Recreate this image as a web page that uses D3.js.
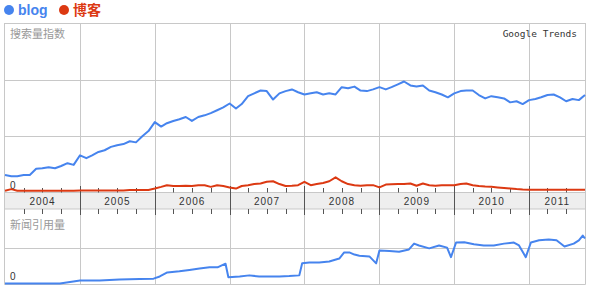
<!DOCTYPE html>
<html>
<head>
<meta charset="utf-8">
<script src="https://cdn.jsdelivr.net/npm/d3@7"></script>
<style>
  body { margin: 0; background: #fff; }
  svg { display: block; font-family: "Liberation Sans", Arial, sans-serif; }
</style>
</head>
<body>
<script>
// search volume, monthly from 2004-01 to 2011-10 (index, grid lines at 100 / 200)
let blogSearch = [31,29,29,31,31,42,43,45,43,47,52,49,
  66,61,66,72,75,81,84,86,91,89,100,109,
  125,117,123,127,130,134,127,134,137,141,146,151,
  158,149,157,171,176,181,180,165,176,180,183,178,
  174,176,178,174,176,174,187,185,188,181,180,183,
  187,183,187,192,197,190,188,190,181,178,174,169,
  176,180,181,181,173,167,171,169,167,160,162,157,
  164,166,169,173,174,169,162,166,164,173];
let bokeSearch = [3,6,3,3,3,3,3,3,3,3,3,3,
  3.5,3.5,3.5,3.5,3.5,3.5,3.5,3.5,4.4,4.4,4.4,4.4,
  7,10,13,11.5,11.5,12,11.5,13,13,10,13,11.5,
  9,7,11.5,13,15,16,19,20,15,11.5,12,13,
  19,13,15,17,20,27,20,15,13,12,13,13,
  9,14,14.5,15,15,16,12,16,13,12,13,13,
  13,15,16,13,11.5,10.5,10,9,8,7,6,5.3,
  5,5,5,5,5,5,5,5,5,5];
// news reference volume (grid line at 100)
let newsDates = ["2004-01-01","2004-09-25","2005-01-01","2005-04-07","2005-07-13","2005-10-19","2005-12-26",
  "2006-01-25","2006-03-03","2006-05-01","2006-06-19","2006-08-07","2006-09-25","2006-11-03","2006-12-12","2006-12-26",
  "2007-02-19","2007-04-07","2007-05-25","2007-07-13","2007-09-01","2007-10-19","2007-12-07","2007-12-21",
  "2008-01-25","2008-03-13","2008-05-01","2008-06-19","2008-07-13","2008-08-07","2008-09-01","2008-09-25","2008-11-13","2008-12-16",
  "2009-01-01","2009-02-19","2009-04-07","2009-05-25","2009-06-19","2009-07-13","2009-09-01","2009-10-19","2009-11-27","2009-12-16",
  "2010-01-10","2010-02-19","2010-04-07","2010-05-25","2010-07-13","2010-09-01","2010-10-19","2010-11-13","2010-12-16",
  "2011-01-10","2011-02-19","2011-04-07","2011-05-15","2011-06-23","2011-08-07","2011-09-01","2011-09-20","2011-10-01"];
let newsBlog = [3,3,11,11,14,15,16,
  22,33,36,40,44,47,47,57,20,
  22,25,22,22,22,23,25,58,
  60,60,63,71,88,88,82,79,77,58,
  93,92,90,96,112,107,99,107,101,75,
  115,116,110,107,107,112,115,107,75,
  115,121,123,121,104,112,121,134,126];
let years = ["2004","2005","2006","2007","2008","2009","2010","2011"];

let w = 590, h = 292;
let left = 4.5, right = 585.5;
let blue = "#4684ee", red = "#dc3912";

let svg = d3.select("body").append("svg").attr("width", w).attr("height", h);

let parse = d3.timeParse("%Y-%m-%d");
let start = parse("2004-01-01"), end = parse("2011-10-01");
let months = d3.timeMonth.range(start, d3.timeMonth.offset(end, 1));

let x = d3.scaleTime().domain([start, end]).range([left + 0.5, right - 0.5]);
let yTop = d3.scaleLinear().domain([0, 300]).range([192.5, 23.5]);
let yNews = d3.scaleLinear().domain([0, 200]).range([284.5, 211.5]);

let yearStarts = years.map(d => parse(d + "-01-01"));
let quarters = d3.timeMonth.every(3).range(start, end).filter(d => d.getMonth() !== 0);

// legend
let legend = svg.append("g").attr("font-weight", "bold").attr("font-size", 14);
legend.append("circle").attr("cx", 9).attr("cy", 10).attr("r", 5).attr("fill", blue);
legend.append("text").attr("x", 18).attr("y", 15).attr("fill", blue).text("blog");
legend.append("circle").attr("cx", 64).attr("cy", 10).attr("r", 5).attr("fill", red);
legend.append("text").attr("x", 73).attr("y", 15).attr("fill", red)
  .attr("font-family", "'Noto Sans CJK SC', sans-serif").text("博客");

// top panel grid
let grid = svg.append("g").attr("stroke", "#c8c8c8").attr("fill", "none");
grid.append("rect").attr("x", left).attr("y", 23.5).attr("width", right - left).attr("height", 192.5 - 23.5);
[100, 200].forEach(v => grid.append("line").attr("x1", left).attr("x2", right)
  .attr("y1", Math.round(yTop(v)) + 0.5).attr("y2", Math.round(yTop(v)) + 0.5));
yearStarts.slice(1).forEach(d => grid.append("line")
  .attr("x1", Math.round(x(d)) + 0.5).attr("x2", Math.round(x(d)) + 0.5).attr("y1", 23.5).attr("y2", 192.5));

// bottom panel grid
grid.append("line").attr("x1", left).attr("x2", left).attr("y1", 209).attr("y2", 284.5);
grid.append("line").attr("x1", right).attr("x2", right).attr("y1", 209).attr("y2", 284.5);
grid.append("line").attr("x1", left).attr("x2", right).attr("y1", 284.5).attr("y2", 284.5);
grid.append("line").attr("x1", left).attr("x2", right)
  .attr("y1", Math.round(yNews(100)) + 0.5).attr("y2", Math.round(yNews(100)) + 0.5);
yearStarts.slice(1).forEach(d => grid.append("line")
  .attr("x1", Math.round(x(d)) + 0.5).attr("x2", Math.round(x(d)) + 0.5).attr("y1", 209).attr("y2", 284.5));

// date band
svg.append("rect").attr("x", left).attr("y", 192.5).attr("width", right - left).attr("height", 16.5)
  .attr("fill", "#eeeeee").attr("stroke", "#c8c8c8");
let ticks = svg.append("g").attr("stroke", "#555");
quarters.forEach(d => {
  let px = Math.round(x(d)) + 0.5;
  ticks.append("line").attr("x1", px).attr("x2", px).attr("y1", 188).attr("y2", 192.5);
  ticks.append("line").attr("x1", px).attr("x2", px).attr("y1", 209).attr("y2", 214);
});
yearStarts.slice(1).forEach(d => {
  let px = Math.round(x(d)) + 0.5;
  ticks.append("line").attr("x1", px).attr("x2", px).attr("y1", 186).attr("y2", 215);
});
svg.append("g").selectAll("text").data(years).join("text")
  .attr("x", d => (x(parse(d + "-01-01")) + Math.min(x(parse((+d + 1) + "-01-01")), right)) / 2)
  .attr("y", 205).attr("text-anchor", "middle").attr("font-size", 10).attr("letter-spacing", 1)
  .attr("fill", "#333").text(d => d);

// labels
let lab = svg.append("g").attr("fill", "#999").attr("font-family", "'Noto Sans CJK SC', sans-serif").attr("font-size", 11);
lab.append("text").attr("x", 10).attr("y", 38).text("搜索量指数");
lab.append("text").attr("x", 10).attr("y", 229).text("新闻引用量");
svg.append("text").attr("x", 577).attr("y", 37).attr("text-anchor", "end")
  .attr("font-family", "'DejaVu Sans Mono', monospace").attr("font-size", 9.5).attr("fill", "#333")
  .text("Google Trends");
svg.append("text").attr("x", 10).attr("y", 189).attr("font-size", 10).attr("fill", "#333").text("0");
svg.append("text").attr("x", 10).attr("y", 280).attr("font-size", 10).attr("fill", "#333").text("0");

// lines
let topLine = d3.line().x((d, i) => x(months[i])).y(d => yTop(d));
svg.append("path").datum(bokeSearch).attr("d", topLine).attr("fill", "none")
  .attr("stroke", red).attr("stroke-width", 2).attr("stroke-linejoin", "round");
svg.append("path").datum(blogSearch).attr("d", topLine).attr("fill", "none")
  .attr("stroke", blue).attr("stroke-width", 2).attr("stroke-linejoin", "round");

let newsLine = d3.line().x((d, i) => x(parse(newsDates[i]))).y(d => yNews(d));
svg.append("path").datum(newsBlog).attr("d", newsLine).attr("fill", "none")
  .attr("stroke", blue).attr("stroke-width", 2).attr("stroke-linejoin", "round");
</script>
</body>
</html>
